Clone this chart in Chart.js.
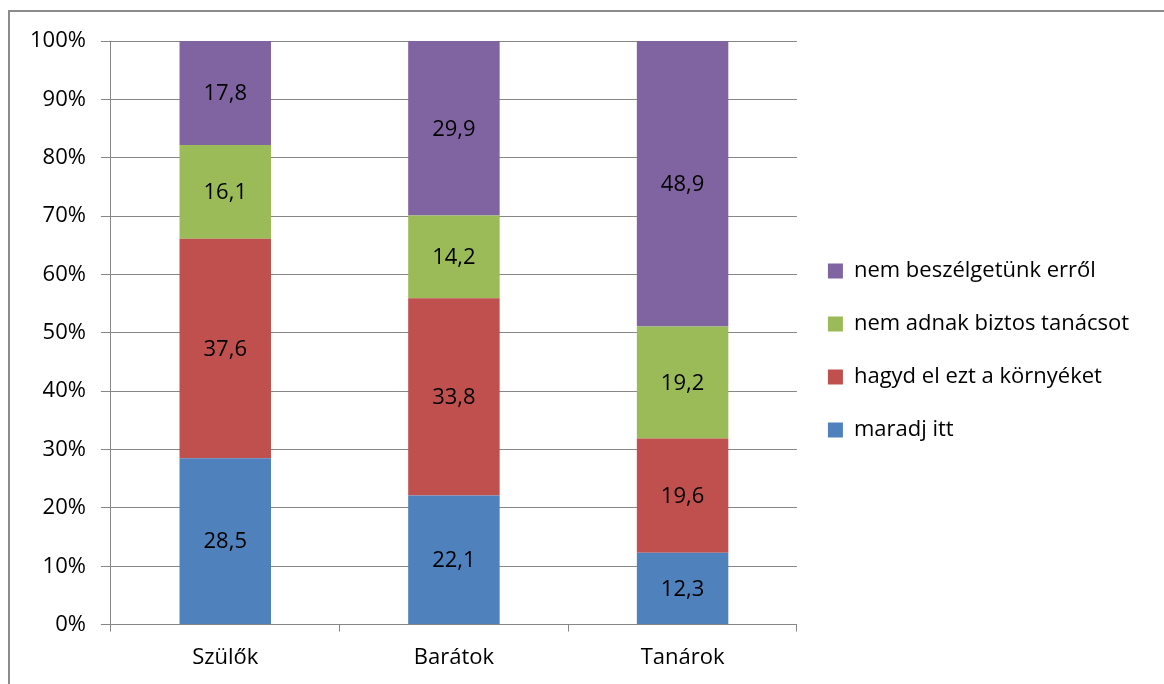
<!DOCTYPE html>
<html>
<head>
<meta charset="utf-8">
<script src="https://cdn.jsdelivr.net/npm/chart.js@4"></script>
<style>
  body { margin: 0; background: #fff; }
  #wrap { position: relative; width: 1164px; height: 684px; overflow: hidden; }
  #frame { position: absolute; left: 8px; top: 10px; width: 1200px; height: 700px;
           border-top: 2px solid #8c8c8c; border-left: 2px solid #8c8c8c; }
  canvas { position: absolute; left: 0; top: 0; }
</style>
</head>
<body>
<div id="wrap">
  <div id="frame"></div>
  <canvas id="myChart" width="1164" height="684"></canvas>
</div>
<script>
const categories = ['Szülők', 'Barátok', 'Tanárok'];
const seriesNames = ['maradj itt', 'hagyd el ezt a környéket', 'nem adnak biztos tanácsot', 'nem beszélgetünk erről'];
const maradj = [28.5, 22.1, 12.3];
const hagyd = [37.6, 33.8, 19.6];
const nemAdnak = [16.1, 14.2, 19.2];
const nemBeszel = [17.8, 29.9, 48.9];
const yTicks = [0, 10, 20, 30, 40, 50, 60, 70, 80, 90, 100];

const colors = ['#4F81BD', '#C0504D', '#9BBB59', '#8064A2'];
const seriesValues = [maradj, hagyd, nemAdnak, nemBeszel];
const fontFamily = '"Open Sans", sans-serif';
const fontSize = 22;

// draws the value in the middle of every bar segment
const segmentLabels = {
    id: 'segmentLabels',
    afterDatasetsDraw(chart) {
        const ctx = chart.ctx;
        ctx.save();
        ctx.font = fontSize + 'px ' + fontFamily;
        ctx.fillStyle = '#000';
        ctx.textAlign = 'center';
        ctx.textBaseline = 'middle';
        chart.data.datasets.forEach((ds, i) => {
            chart.getDatasetMeta(i).data.forEach((bar, j) => {
                const p = bar.getProps(['x', 'y', 'base'], true);
                ctx.fillText(ds.data[j].toFixed(1).replace('.', ','), p.x, (p.y + p.base) / 2 + 1);
            });
        });
        ctx.restore();
    }
};

// nudge the legend block up a little, like the original
const legendShift = {
    id: 'legendShift',
    afterLayout(chart) {
        chart.legend.top -= 12;
        chart.legend.bottom -= 12;
    }
};

const ctx = document.getElementById('myChart').getContext('2d');
const myChart = new Chart(ctx, {
    type: 'bar',
    data: {
        labels: categories,
        datasets: seriesNames.map((name, i) => ({
            label: name,
            data: seriesValues[i],
            backgroundColor: colors[i],
            borderWidth: 0,
            categoryPercentage: 1,
            barPercentage: 0.4
        }))
    },
    options: {
        responsive: false,
        animation: false,
        layout: { padding: { left: 15, top: 41, right: 25, bottom: 0 } },
        plugins: {
            legend: {
                position: 'right',
                reverse: true,
                maxWidth: 420,
                labels: {
                    boxWidth: 15,
                    boxHeight: 15,
                    padding: 31,
                    color: '#000',
                    font: { family: fontFamily, size: fontSize }
                }
            },
            tooltip: { enabled: false }
        },
        scales: {
            x: {
                stacked: true,
                grid: {
                    offset: true,
                    drawOnChartArea: false,
                    drawTicks: true,
                    tickLength: 7,
                    color: '#868686'
                },
                border: { color: '#868686' },
                ticks: {
                    color: '#000',
                    padding: 13,
                    font: { family: fontFamily, size: fontSize }
                }
            },
            y: {
                stacked: true,
                min: yTicks[0],
                max: yTicks[yTicks.length - 1],
                afterBuildTicks: axis => { axis.ticks = yTicks.map(v => ({ value: v })); },
                grid: { color: '#868686', tickLength: 10 },
                border: { color: '#868686' },
                ticks: {
                    color: '#000',
                    padding: 15,
                    font: { family: fontFamily, size: fontSize },
                    callback: v => v + '%'
                }
            }
        }
    },
    plugins: [segmentLabels, legendShift]
});
</script>
</body>
</html>
